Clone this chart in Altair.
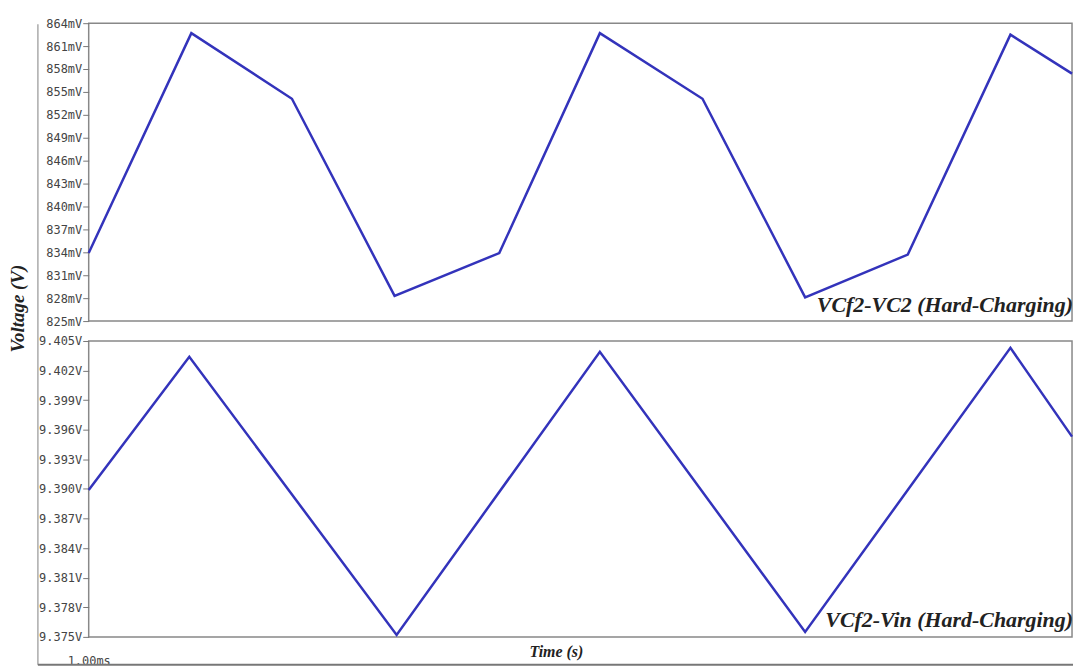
import altair as alt
import pandas as pd

# ---- data ----
t_top = [1000, 1005, 1009.9, 1014.9, 1020, 1024.9, 1029.9, 1034.9, 1039.9, 1044.9, 1047.9]
v_top = [833.9, 862.7, 854.1, 828.3, 833.9, 862.7, 854.1, 828.1, 833.7, 862.5, 857.4]   # mV

t_bot = [1000, 1004.9, 1015, 1024.9, 1034.9, 1044.9, 1047.9]
v_bot = [9.3899, 9.4034, 9.3752, 9.4039, 9.3755, 9.4043, 9.3953]                       # V

top_ticks = [825, 828, 831, 834, 837, 840, 843, 846, 849, 852, 855, 858, 861, 864]
bot_ticks = [9.375, 9.378, 9.381, 9.384, 9.387, 9.390, 9.393, 9.396, 9.399, 9.402, 9.405]
x_domain = [1000, 1047.9]
x_ticks = [1000]
x_tick_label = "1.00ms"

top_label = "VCf2-VC2 (Hard-Charging)"
bot_label = "VCf2-Vin (Hard-Charging)"

LINE = "#3333bb"
W = 987
TICKFONT = "DejaVu Sans Mono"
SERIF = "Liberation Serif"

df_top = pd.DataFrame({"t": t_top, "v": v_top})
df_bot = pd.DataFrame({"t": t_bot, "v": v_bot})

axis_common = dict(
    labelFont=TICKFONT, labelFontSize=12, labelColor="#444444",
    tickColor="#777777", tickSize=6, tickWidth=1, domain=False, grid=False,
    labelPadding=1,
)

top_line = alt.Chart(df_top).mark_line(color=LINE, strokeWidth=2.5).encode(
    x=alt.X("t:Q", scale=alt.Scale(domain=x_domain, nice=False, zero=False),
            axis=alt.Axis(labels=False, ticks=False, domain=False, grid=False, title=None)),
    y=alt.Y("v:Q", scale=alt.Scale(domain=[825, 864], nice=False, zero=False),
            axis=alt.Axis(values=top_ticks, labelExpr="format(datum.value,'d') + 'mV'",
                          title="Voltage (V)", titleFont=SERIF, titleFontStyle="italic",
                          titleFontWeight="bold", titleFontSize=19, titleColor="#222222",
                          titleX=-71, titleY=286, titleAngle=270, titleAlign="center",
                          titleBaseline="middle", **axis_common)),
)
top_text = alt.Chart(pd.DataFrame({"s": [top_label]})).mark_text(
    align="right", baseline="alphabetic", font=SERIF, fontStyle="italic",
    fontWeight="bold", fontSize=22, color="#222222"
).encode(x=alt.value(W + 1), y=alt.value(290), text="s:N")

top = alt.layer(top_line, top_text).properties(width=W, height=299)

bot_line = alt.Chart(df_bot).mark_line(color=LINE, strokeWidth=2.5).encode(
    x=alt.X("t:Q", scale=alt.Scale(domain=x_domain, nice=False, zero=False),
            axis=alt.Axis(values=x_ticks, labelExpr=f"'{x_tick_label}'", ticks=False,
                          domain=False, grid=False, labelFont=TICKFONT, labelFontSize=12,
                          labelColor="#444444", labelPadding=19, labelAlign="center",
                          labelFlush=False,
                          title="Time (s)", titleFont=SERIF, titleFontStyle="italic",
                          titleFontWeight="bold", titleFontSize=16, titleColor="#222222",
                          titleX=469, titleY=20, titleBaseline="alphabetic")),
    y=alt.Y("v:Q", scale=alt.Scale(domain=[9.375, 9.405], nice=False, zero=False),
            axis=alt.Axis(values=bot_ticks, labelExpr="format(datum.value,'.3f') + 'V'",
                          title=None, **axis_common)),
)
bot_text = alt.Chart(pd.DataFrame({"s": [bot_label]})).mark_text(
    align="right", baseline="alphabetic", font=SERIF, fontStyle="italic",
    fontWeight="bold", fontSize=22, color="#222222"
).encode(x=alt.value(W + 1), y=alt.value(287), text="s:N")

# outer window frame (left edge and bottom edge)
frame_left = alt.Chart(pd.DataFrame({"a": [0]})).mark_rule(color="#aaaaaa", strokeWidth=1.5).encode(
    x=alt.value(-51), y=alt.value(-318), y2=alt.value(325))
frame_bottom = alt.Chart(pd.DataFrame({"a": [0]})).mark_rule(color="#777777", strokeWidth=2).encode(
    x=alt.value(-51), x2=alt.value(W + 1), y=alt.value(325))

bot = alt.layer(bot_line, bot_text, frame_left, frame_bottom).properties(width=W, height=297)

chart = alt.vconcat(top, bot, spacing=20, bounds="flush").properties(
    padding={"left": 0, "top": 7, "right": 0, "bottom": 0},
    background="white",
).configure_view(
    stroke="#888888", strokeWidth=1.5
)

chart.save("out.html", embed_options={"renderer": "svg", "actions": False})
